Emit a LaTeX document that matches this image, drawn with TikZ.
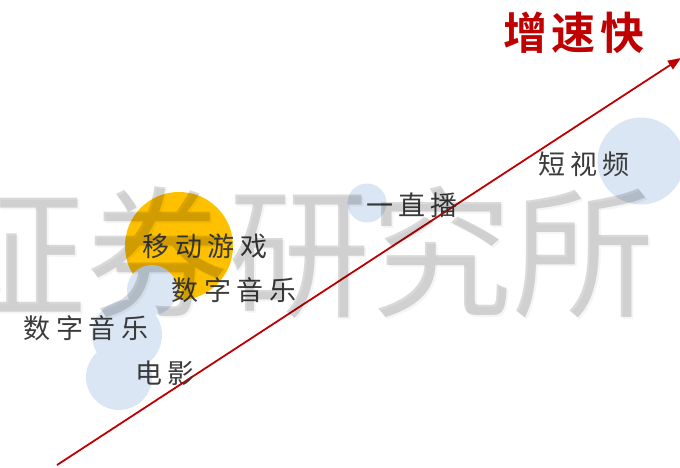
\documentclass[tikz,border=0pt]{standalone}
\usepackage{fontspec}
\usetikzlibrary{arrows.meta}
\newfontfamily\cjk[LetterSpace=20]{Noto Sans CJK SC}
\newfontfamily\cjkmark{Noto Sans CJK SC}
\newfontfamily\cjkbold[LetterSpace=10]{Noto Sans CJK SC Bold}
\definecolor{bluec}{HTML}{DAE6F3}
\definecolor{orangec}{HTML}{FFC000}
\definecolor{redc}{HTML}{C00000}
\definecolor{txt}{HTML}{3A3A3A}
\tikzset{
  bubble/.style={fill=bluec, draw=none},
  hot/.style={fill=orangec, draw=none},
  lbl/.style={font=\cjk\fontsize{27}{30}\selectfont, text=txt, inner sep=0pt},
  wmtext/.style={font=\cjkmark\fontsize{142}{145}\selectfont, text=black, inner sep=0pt},
  growth/.style={draw=redc, line width=1.8pt, -{Triangle[length=13pt,width=10pt]}},
}
\begin{document}
\begin{tikzpicture}[x=1pt,y=-1pt]
\useasboundingbox (0,0) rectangle (680,467);
\begin{scope}
\clip (0,0) rectangle (680,467);
% circles
\fill[hot] (179,246) circle (54);
\fill[bubble] (152,290) circle (25);
\fill[bubble] (127,335) circle (35);
\fill[bubble] (119,377) circle (33);
\fill[bubble] (367,203) circle (19.5);
\fill[bubble] (641,161) circle (43.5);
% arrow
\coordinate (s) at (57,465);
\coordinate (e) at (681,58);
\draw[growth] (s) -- (e);
% labels
\node[lbl] (game) at (205,246) {移动游戏};
\node[lbl] (music1) at (234,290) {数字音乐};
\node[lbl] (music2) at (86,328) {数字音乐};
\node[lbl] (movie) at (165,373) {电影};
\node[lbl] (live) at (412,205) {一直播};
\node[lbl] (video) at (584,164) {短视频};
\node[font=\cjkbold\fontsize{44}{48}\selectfont, text=redc, inner sep=0pt] (title) at (574,33) {增速快};
% watermark with faint shadow
\node[wmtext, text opacity=0.04] (wmshadow) at (302,254) {证券研究所};
\node[wmtext, text opacity=0.15] (wm) at (300,252) {证券研究所};
\end{scope}
\end{tikzpicture}
\end{document}
